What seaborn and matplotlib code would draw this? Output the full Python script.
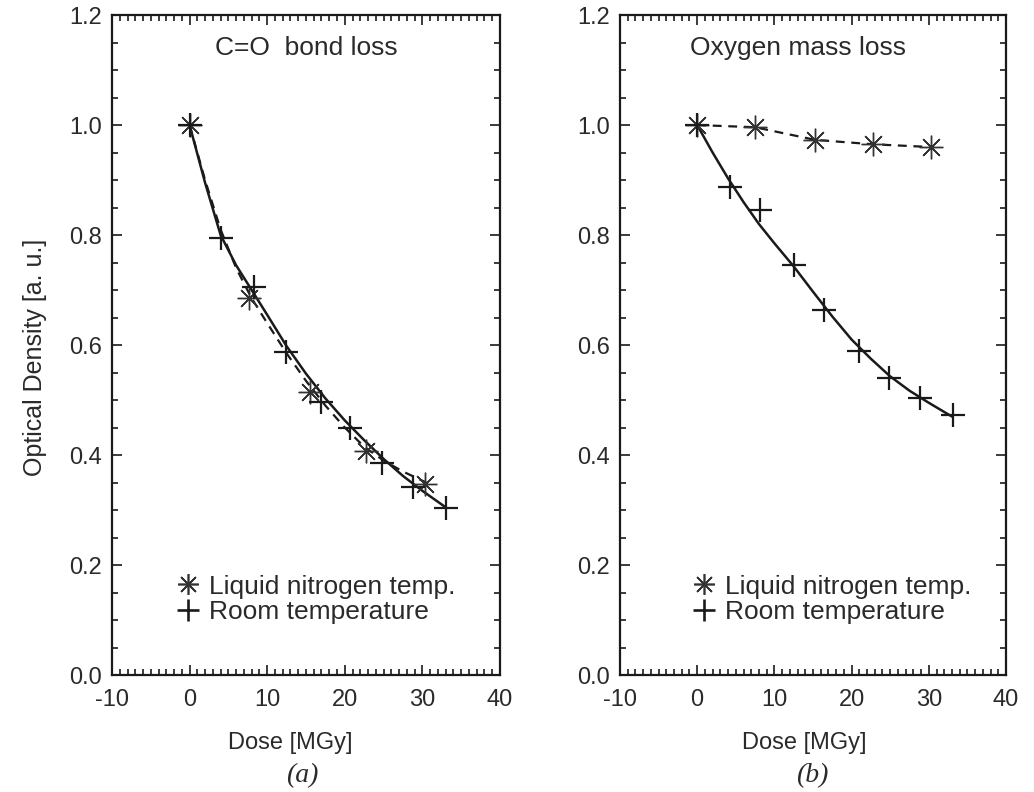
"""
Optical density vs dose, two panels (C=O bond loss, oxygen mass loss)
"""
import numpy as np
import pandas as pd
import seaborn as sns
import matplotlib
matplotlib.use("Agg")
import matplotlib.pyplot as plt
from matplotlib.lines import Line2D
from matplotlib.ticker import MultipleLocator, FormatStrFormatter

# Panel (a): C=O bond loss
a_ln_dose = [0, 7.6, 15.5, 22.8, 30.4]
a_ln_od = [1.0, 0.685, 0.515, 0.408, 0.348]
a_rt_dose = [0, 4.0, 8.3, 12.4, 16.9, 20.7, 24.8, 28.8, 33.0]
a_rt_od = [1.0, 0.795, 0.705, 0.588, 0.497, 0.449, 0.385, 0.342, 0.304]
# fit curves
a_rt_fit_dose = [0, 2, 4, 6, 8, 10, 12.5, 15, 17.5, 20, 22.5, 25, 27.5, 30, 33]
a_rt_fit_od = [1.0, 0.895, 0.80, 0.745, 0.70, 0.655, 0.598, 0.548, 0.503,
               0.463, 0.427, 0.393, 0.362, 0.335, 0.305]
a_ln_fit_dose = [0, 2, 4, 6, 8, 10, 12.5, 15, 17.5, 20, 22.5, 25, 27.5, 30.5]
a_ln_fit_od = [1.0, 0.90, 0.81, 0.74, 0.685, 0.64, 0.585, 0.535, 0.49,
               0.45, 0.415, 0.39, 0.37, 0.35]

# Panel (b): oxygen mass loss
b_ln_dose = [0, 7.5, 15.3, 22.8, 30.3]
b_ln_od = [1.0, 0.996, 0.973, 0.965, 0.96]
b_rt_dose = [0, 4.3, 8.2, 12.5, 16.4, 20.9, 24.8, 28.9, 33.1]
b_rt_od = [1.0, 0.887, 0.845, 0.745, 0.664, 0.59, 0.54, 0.504, 0.473]
b_rt_fit_dose = [0, 2, 4, 6, 8, 10, 12.5, 15, 17.5, 20, 22.5, 25, 27.5, 30, 33]
b_rt_fit_od = [1.0, 0.95, 0.903, 0.86, 0.82, 0.785, 0.743, 0.697, 0.652,
               0.61, 0.575, 0.543, 0.517, 0.495, 0.47]

titles = ["C=O  bond loss", "Oxygen mass loss"]
panel_tags = ["(a)", "(b)"]
legend_labels = ["Liquid nitrogen temp.", "Room temperature"]

sns.set_style("ticks")
plt.rcParams["font.family"] = ["Liberation Sans", "DejaVu Sans"]
plt.rcParams["axes.unicode_minus"] = False
ink = "#1a1a1a"
txt = "#2a2a2a"
asterisk = (8, 2, 0)

fig = plt.figure(figsize=(10.34, 7.92), dpi=100)
ax_a = fig.add_axes([0.1083, 0.1477, 0.3752, 0.8333])
ax_b = fig.add_axes([0.5996, 0.1477, 0.3733, 0.8333])

panels = [
    (ax_a, a_ln_dose, a_ln_od, a_rt_dose, a_rt_od,
     (a_ln_fit_dose, a_ln_fit_od), (a_rt_fit_dose, a_rt_fit_od)),
    (ax_b, b_ln_dose, b_ln_od, b_rt_dose, b_rt_od,
     (b_ln_dose, b_ln_od), (b_rt_fit_dose, b_rt_fit_od)),
]

# per-panel placement (axes fractions)
title_x = [0.50, 0.46]
xlabel_x = [0.459, 0.477]
tag_x = [0.49, 0.497]
legend_x = [0.162, 0.184]

for i, (ax, ln_x, ln_y, rt_x, rt_y, ln_fit, rt_fit) in enumerate(panels):
    # fit lines
    sns.lineplot(x=rt_fit[0], y=rt_fit[1], ax=ax, color=ink, lw=1.8,
                 sort=False, estimator=None)
    sns.lineplot(x=ln_fit[0], y=ln_fit[1], ax=ax, color=ink, lw=1.6,
                 sort=False, estimator=None, linestyle=(0, (4, 3)))
    # data points
    ax.plot(ln_x, ln_y, linestyle="none", marker=asterisk, ms=17,
            mew=1.0, color="#333333")
    ax.plot(rt_x, rt_y, linestyle="none", marker="+", ms=17,
            mew=1.6, color=ink)

    ax.set_xlim(-10, 40)
    ax.set_ylim(0, 1.2)
    ax.xaxis.set_major_locator(MultipleLocator(10))
    ax.xaxis.set_minor_locator(MultipleLocator(1))
    ax.yaxis.set_major_locator(MultipleLocator(0.2))
    ax.yaxis.set_minor_locator(MultipleLocator(0.05))
    ax.yaxis.set_major_formatter(FormatStrFormatter("%.1f"))
    ax.tick_params(which="both", direction="in", top=True, right=True,
                   color=ink, width=1.2)
    ax.tick_params(which="major", length=7, labelsize=17, labelcolor=txt)
    ax.tick_params(axis="y", which="major", pad=7)
    ax.tick_params(axis="x", which="major", pad=10)
    ax.tick_params(which="minor", length=4)
    for s in ax.spines.values():
        s.set_linewidth(1.6)
        s.set_color(ink)

    ax.set_xlabel("Dose [MGy]", fontsize=17, color=txt)
    ax.xaxis.set_label_coords(xlabel_x[i], -0.086)
    ax.set_ylabel("")
    ax.text(title_x[i], 0.95, titles[i], transform=ax.transAxes,
            ha="center", va="center", fontsize=19, color=txt)
    ax.text(tag_x[i], -0.153, panel_tags[i],
            transform=ax.transAxes, ha="center", va="center", fontsize=20,
            family="Liberation Serif", style="italic", color=txt)

    handles = [
        Line2D([], [], linestyle="none", marker=asterisk, ms=15, mew=1.2,
               color="#333333"),
        Line2D([], [], linestyle="none", marker="+", ms=16, mew=1.9,
               color=ink),
    ]
    ax.legend(handles, legend_labels,
              loc="upper left", bbox_to_anchor=(legend_x[i], 0.152),
              frameon=False, fontsize=19, handlelength=1.0,
              handletextpad=0.3, labelspacing=0.05, borderaxespad=0,
              borderpad=0, labelcolor=txt)

fig.text(35 / 1034, 1 - 357 / 792, "Optical Density [a. u.]", rotation=90,
         ha="center", va="center", fontsize=18, color=txt)

fig.savefig("out.png", dpi=100)
